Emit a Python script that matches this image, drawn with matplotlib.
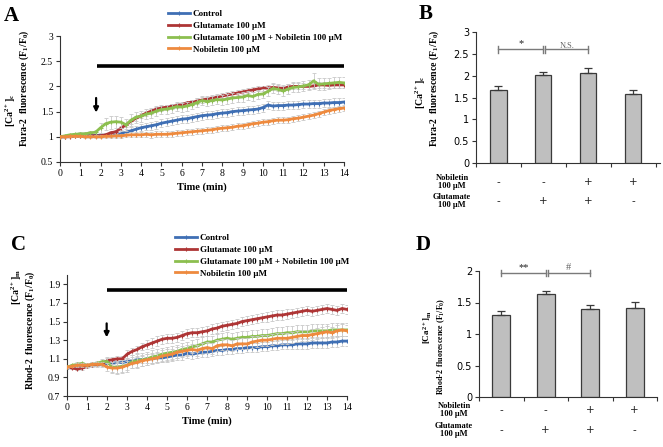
import numpy as np
import matplotlib
matplotlib.use('Agg')
import matplotlib.pyplot as plt
import matplotlib.transforms as mtrans

plt.rcParams['font.family'] = ['Liberation Serif', 'DejaVu Sans']
plt.rcParams['mathtext.fontset'] = 'custom'
plt.rcParams['mathtext.rm'] = 'Liberation Serif:bold'
plt.rcParams['mathtext.it'] = 'Liberation Serif:bold'
plt.rcParams['mathtext.bf'] = 'Liberation Serif:bold'
plt.rcParams['mathtext.default'] = 'rm'

# ---------------- data ----------------
series_labels = ["Control", "Glutamate 100 \u00b5M",
                 "Glutamate 100 \u00b5M + Nobiletin 100 \u00b5M", "Nobiletin 100 \u00b5M"]
series_colors = ['#3F6FB4', '#AE3535', '#8CBF4F', '#EE8A3E']

time_min = np.linspace(0, 14, 57)  # sampling every 0.25 min

# Panel A: Fura-2 (cytosolic Ca2+)
fura_control = [1.00, 1.00, 1.01, 1.01, 1.02, 1.02, 1.02, 1.03, 1.03, 1.03, 1.04, 1.04, 1.06, 1.09, 1.12,
                1.15, 1.18, 1.20, 1.22, 1.24, 1.27, 1.29, 1.31, 1.33, 1.35, 1.36, 1.38, 1.40, 1.42, 1.43,
                1.44, 1.46, 1.47, 1.48, 1.50, 1.51, 1.52, 1.53, 1.54, 1.55, 1.58, 1.63, 1.61, 1.62, 1.62,
                1.63, 1.63, 1.64, 1.65, 1.65, 1.66, 1.66, 1.67, 1.67, 1.68, 1.68, 1.69]
fura_glut = [1.00, 1.00, 1.00, 1.01, 1.01, 1.01, 1.02, 1.02, 1.02, 1.04, 1.08, 1.10, 1.17, 1.24, 1.31,
             1.37, 1.42, 1.47, 1.51, 1.55, 1.57, 1.59, 1.61, 1.62, 1.64, 1.67, 1.69, 1.71, 1.73, 1.75,
             1.77, 1.79, 1.81, 1.83, 1.85, 1.87, 1.89, 1.91, 1.93, 1.95, 1.96, 1.97, 1.98, 1.97, 1.96,
             1.99, 2.00, 2.00, 2.00, 2.00, 2.01, 2.03, 2.03, 2.02, 2.03, 2.03, 2.03]
fura_glut_nob = [1.00, 1.02, 1.04, 1.05, 1.06, 1.06, 1.08, 1.09, 1.18, 1.26, 1.29, 1.30, 1.29, 1.24, 1.33,
                 1.39, 1.41, 1.45, 1.47, 1.51, 1.54, 1.55, 1.57, 1.60, 1.59, 1.61, 1.64, 1.68, 1.72, 1.70,
                 1.72, 1.74, 1.73, 1.75, 1.77, 1.78, 1.79, 1.82, 1.80, 1.84, 1.85, 1.90, 1.96, 1.94, 1.91,
                 1.95, 1.98, 1.99, 2.01, 2.03, 2.11, 2.04, 2.05, 2.06, 2.07, 2.08, 2.07]
fura_nob = [1.00, 1.00, 1.01, 1.01, 1.01, 1.00, 1.00, 1.00, 1.00, 1.01, 1.01, 1.02, 1.02, 1.03, 1.04,
            1.04, 1.04, 1.05, 1.04, 1.05, 1.05, 1.05, 1.06, 1.07, 1.08, 1.09, 1.10, 1.11, 1.12, 1.13,
            1.14, 1.16, 1.17, 1.18, 1.19, 1.21, 1.22, 1.24, 1.26, 1.27, 1.29, 1.30, 1.32, 1.33, 1.33,
            1.34, 1.36, 1.37, 1.39, 1.41, 1.43, 1.46, 1.49, 1.52, 1.54, 1.56, 1.57]
fura_control_se = [0.01, 0.01, 0.02, 0.02, 0.02, 0.03, 0.03, 0.03, 0.04, 0.04, 0.05, 0.05, 0.06, 0.06, 0.07,
                   0.07, 0.07, 0.07, 0.08, 0.08, 0.08, 0.08, 0.08, 0.08, 0.08, 0.08, 0.08, 0.08, 0.08, 0.08,
                   0.08, 0.08, 0.08, 0.08, 0.08, 0.08, 0.08, 0.08, 0.08, 0.08, 0.08, 0.08, 0.08, 0.08, 0.08,
                   0.08, 0.08, 0.08, 0.08, 0.08, 0.08, 0.08, 0.08, 0.08, 0.08, 0.08, 0.08]
fura_glut_se = [0.01, 0.01, 0.01, 0.01, 0.02, 0.02, 0.02, 0.02, 0.02, 0.03, 0.03, 0.03, 0.04, 0.04, 0.05,
                0.05, 0.05, 0.05, 0.05, 0.05, 0.05, 0.05, 0.05, 0.05, 0.05, 0.05, 0.05, 0.05, 0.05, 0.05,
                0.05, 0.05, 0.05, 0.05, 0.05, 0.05, 0.05, 0.05, 0.05, 0.05, 0.05, 0.05, 0.06, 0.06, 0.06,
                0.06, 0.06, 0.06, 0.06, 0.06, 0.06, 0.06, 0.06, 0.06, 0.06, 0.06, 0.06]
fura_glut_nob_se = [0.01, 0.02, 0.02, 0.02, 0.03, 0.03, 0.04, 0.05, 0.10, 0.12, 0.13, 0.12, 0.11, 0.12, 0.12,
                    0.11, 0.11, 0.10, 0.10, 0.10, 0.09, 0.09, 0.09, 0.09, 0.09, 0.09, 0.09, 0.09, 0.09, 0.09,
                    0.09, 0.09, 0.09, 0.09, 0.09, 0.09, 0.09, 0.09, 0.09, 0.09, 0.09, 0.09, 0.10, 0.10, 0.10,
                    0.10, 0.10, 0.10, 0.10, 0.10, 0.15, 0.12, 0.12, 0.11, 0.11, 0.11, 0.11]
fura_nob_se = [0.01, 0.01, 0.01, 0.02, 0.02, 0.02, 0.02, 0.03, 0.03, 0.03, 0.03, 0.04, 0.04, 0.04, 0.05,
               0.05, 0.05, 0.05, 0.06, 0.06, 0.06, 0.06, 0.06, 0.06, 0.06, 0.06, 0.06, 0.06, 0.06, 0.06,
               0.06, 0.06, 0.06, 0.06, 0.06, 0.06, 0.06, 0.06, 0.06, 0.06, 0.06, 0.06, 0.06, 0.06, 0.06,
               0.06, 0.06, 0.06, 0.06, 0.06, 0.06, 0.06, 0.06, 0.06, 0.06, 0.06, 0.06]

# Panel C: Rhod-2 (mitochondrial Ca2+)
rhod_control = [1.00, 1.01, 1.02, 1.02, 1.03, 1.03, 1.04, 1.04, 1.05, 1.05, 1.06, 1.06, 1.07, 1.08, 1.09,
                1.09, 1.10, 1.10, 1.11, 1.11, 1.12, 1.13, 1.14, 1.14, 1.16, 1.15, 1.16, 1.17, 1.17, 1.18,
                1.19, 1.19, 1.20, 1.20, 1.21, 1.21, 1.22, 1.22, 1.22, 1.23, 1.23, 1.24, 1.24, 1.25, 1.25,
                1.25, 1.26, 1.26, 1.26, 1.27, 1.27, 1.27, 1.27, 1.28, 1.28, 1.29, 1.29]
rhod_glut = [1.01, 1.00, 0.99, 1.00, 1.02, 1.03, 1.04, 1.05, 1.08, 1.09, 1.10, 1.10, 1.15, 1.18, 1.20,
             1.23, 1.25, 1.27, 1.29, 1.31, 1.32, 1.32, 1.33, 1.35, 1.37, 1.38, 1.38, 1.39, 1.40, 1.42,
             1.43, 1.45, 1.46, 1.47, 1.48, 1.50, 1.51, 1.52, 1.53, 1.54, 1.55, 1.56, 1.57, 1.57, 1.58,
             1.59, 1.60, 1.61, 1.62, 1.61, 1.62, 1.63, 1.64, 1.63, 1.62, 1.64, 1.63]
rhod_glut_nob = [1.01, 1.03, 1.04, 1.05, 1.03, 1.04, 1.05, 1.07, 1.07, 1.01, 1.01, 1.02, 1.03, 1.07, 1.08,
                 1.09, 1.10, 1.12, 1.13, 1.15, 1.16, 1.17, 1.18, 1.20, 1.21, 1.23, 1.24, 1.26, 1.28, 1.28,
                 1.30, 1.31, 1.32, 1.31, 1.32, 1.33, 1.33, 1.34, 1.34, 1.35, 1.35, 1.36, 1.37, 1.37, 1.38,
                 1.38, 1.39, 1.39, 1.39, 1.40, 1.40, 1.40, 1.40, 1.41, 1.41, 1.41, 1.41]
rhod_nob = [1.01, 1.02, 1.03, 1.03, 1.03, 1.04, 1.04, 1.04, 1.01, 1.00, 1.00, 1.01, 1.03, 1.05, 1.06,
            1.08, 1.09, 1.10, 1.11, 1.13, 1.14, 1.15, 1.17, 1.18, 1.19, 1.20, 1.19, 1.21, 1.22, 1.21,
            1.24, 1.25, 1.25, 1.24, 1.26, 1.26, 1.26, 1.28, 1.29, 1.30, 1.30, 1.31, 1.32, 1.32, 1.32,
            1.33, 1.34, 1.35, 1.35, 1.36, 1.37, 1.38, 1.39, 1.38, 1.40, 1.41, 1.40]
rhod_control_se = [0.01, 0.01, 0.01, 0.02, 0.02, 0.02, 0.02, 0.02, 0.03, 0.03, 0.03, 0.03, 0.04, 0.04, 0.04,
                   0.04, 0.05, 0.05, 0.05, 0.05, 0.05, 0.05, 0.05, 0.05, 0.05, 0.05, 0.05, 0.05, 0.05, 0.05,
                   0.05, 0.05, 0.05, 0.05, 0.05, 0.05, 0.05, 0.05, 0.05, 0.05, 0.05, 0.05, 0.05, 0.05, 0.05,
                   0.05, 0.05, 0.05, 0.05, 0.05, 0.05, 0.05, 0.05, 0.05, 0.05, 0.05, 0.05]
rhod_glut_se = [0.01, 0.01, 0.01, 0.02, 0.02, 0.02, 0.02, 0.02, 0.03, 0.03, 0.03, 0.03, 0.04, 0.04, 0.04,
                0.04, 0.05, 0.05, 0.05, 0.05, 0.05, 0.05, 0.05, 0.05, 0.05, 0.05, 0.05, 0.05, 0.05, 0.05,
                0.05, 0.05, 0.05, 0.05, 0.05, 0.05, 0.05, 0.05, 0.05, 0.05, 0.05, 0.05, 0.05, 0.05, 0.05,
                0.05, 0.05, 0.05, 0.05, 0.05, 0.05, 0.05, 0.05, 0.05, 0.05, 0.05, 0.05]
rhod_glut_nob_se = [0.01, 0.01, 0.02, 0.02, 0.02, 0.02, 0.03, 0.03, 0.05, 0.06, 0.07, 0.07, 0.07, 0.07, 0.07,
                    0.07, 0.07, 0.07, 0.07, 0.07, 0.07, 0.07, 0.07, 0.07, 0.07, 0.07, 0.07, 0.07, 0.07, 0.07,
                    0.07, 0.07, 0.07, 0.07, 0.07, 0.07, 0.07, 0.07, 0.07, 0.07, 0.07, 0.07, 0.07, 0.07, 0.07,
                    0.07, 0.07, 0.07, 0.07, 0.07, 0.07, 0.07, 0.07, 0.07, 0.07, 0.07, 0.07]
rhod_nob_se = [0.01, 0.01, 0.02, 0.02, 0.02, 0.02, 0.03, 0.03, 0.04, 0.04, 0.05, 0.05, 0.05, 0.05, 0.06,
               0.06, 0.06, 0.06, 0.06, 0.06, 0.06, 0.06, 0.06, 0.06, 0.06, 0.06, 0.06, 0.06, 0.06, 0.06,
               0.06, 0.06, 0.06, 0.06, 0.06, 0.06, 0.06, 0.06, 0.06, 0.06, 0.06, 0.06, 0.06, 0.06, 0.06,
               0.06, 0.06, 0.06, 0.06, 0.06, 0.06, 0.06, 0.06, 0.06, 0.06, 0.06, 0.06]

# Panels B / D: bar summaries
nobiletin_row = ['-', '-', '+', '+']
glutamate_row = ['-', '+', '+', '-']
fura_bar_means = [1.68, 2.02, 2.07, 1.58]
fura_bar_se = [0.08, 0.07, 0.11, 0.09]
rhod_bar_means = [1.30, 1.63, 1.40, 1.42]
rhod_bar_se = [0.06, 0.06, 0.06, 0.09]

# ---------------- figure ----------------
W, H = 663, 447
fig = plt.figure(figsize=(W / 100, H / 100), dpi=100)


def fx(px):
    return px / W


def fy(py):
    return 1 - py / H


def ax_rect(l, r, t, b):
    return [fx(l), fy(b), fx(r) - fx(l), fy(t) - fy(b)]


def style_axes(ax, tick_font):
    for s in ['top', 'right']:
        ax.spines[s].set_visible(False)
    for s in ['left', 'bottom']:
        ax.spines[s].set_color('#333333')
        ax.spines[s].set_linewidth(0.8)
    ax.tick_params(direction='out', length=3, width=0.8, color='#333333', pad=2)
    for lab in ax.get_xticklabels() + ax.get_yticklabels():
        lab.set_fontfamily(tick_font)
        lab.set_fontsize(7)


def trace_panel(rect, series, errs, ylim, yticks, bar_y, bar_x0, arrow_x, arrow_y, legend_anchor):
    ax = fig.add_axes(rect)
    handles = []
    for i, (vals, se) in enumerate(zip(series, errs)):
        ax.errorbar(time_min, vals, yerr=se, fmt='none', ecolor='#C9C9C9', elinewidth=0.6,
                    capsize=1.3, capthick=0.6, zorder=1 + 2 * i)
        h, = ax.plot(time_min, vals, color=series_colors[i], lw=2.0, marker='+', ms=2.5, mew=0.8,
                     zorder=2 + 2 * i)
        handles.append(h)
    ax.set_xlim(0, 14)
    ax.set_ylim(*ylim)
    ax.set_xticks(range(0, 15))
    ax.set_yticks(yticks)
    ax.set_yticklabels([('%g' % v) for v in yticks])
    style_axes(ax, 'Liberation Serif')
    ax.plot([bar_x0, 14], [bar_y, bar_y], color='black', lw=2.6, solid_capstyle='butt', zorder=20,
            clip_on=False)
    ax.annotate('', xy=(arrow_x, arrow_y[1]), xytext=(arrow_x, arrow_y[0]),
                arrowprops=dict(arrowstyle='-|>', color='black', lw=1.6, mutation_scale=7,
                                shrinkA=0, shrinkB=0))
    ax.set_xlabel('Time (min)', fontsize=7.5, fontweight='bold', labelpad=3)
    fig.legend(handles, series_labels, loc='upper left', bbox_to_anchor=legend_anchor,
               bbox_transform=fig.transFigure, frameon=False,
               prop={'weight': 'bold', 'size': 6.5}, handlelength=2.45, handletextpad=0.3,
               labelspacing=0.38, borderpad=0, borderaxespad=0)
    return ax


def bar_panel(rect, means, ses, ylim, yticks, xlim, width, bracket_y, cap_h, marks, mark_y,
              row_y1, row_y2, label_x):
    ax = fig.add_axes(rect)
    xs = np.arange(len(means))
    ax.bar(xs, means, width=width, color='#BFBFBF', edgecolor='#3A3A3A', linewidth=0.9,
           yerr=[np.zeros(len(ses)), ses],
           error_kw=dict(ecolor='#3A3A3A', elinewidth=0.9, capsize=3, capthick=0.9), zorder=2)
    ax.set_xlim(*xlim)
    ax.set_ylim(*ylim)
    ax.set_yticks(yticks)
    ax.set_yticklabels([('%g' % v) for v in yticks])
    ax.set_xticks(np.arange(-0.5, len(means), 1.0))
    ax.set_xticklabels([])
    style_axes(ax, 'DejaVu Sans')
    ax.tick_params(axis='y', labelsize=7)
    # significance brackets
    gcol = '#7A7A7A'
    pairs = [(0, 1), (1.04, 2)]
    for (a, b), m in zip(pairs, marks):
        ax.plot([a, b], [bracket_y, bracket_y], color=gcol, lw=1.0, clip_on=False)
        ax.plot([a, a], [bracket_y - cap_h, bracket_y + cap_h], color=gcol, lw=1.0, clip_on=False)
        ax.plot([b, b], [bracket_y - cap_h, bracket_y + cap_h], color=gcol, lw=1.0, clip_on=False)
        small = m == 'N.S.'
        ax.text((a + b) / 2, bracket_y + (mark_y if not small else mark_y * 0.6), m,
                ha='center', va='center', fontsize=6 if small else 7.5,
                color='#666666' if small or m == '#' else '#222222', family='Liberation Serif')
    # treatment table
    tr = mtrans.blended_transform_factory(ax.transData, fig.transFigure)
    for i in xs:
        ax.text(i, fy(row_y1), nobiletin_row[i], transform=tr, ha='center', va='center',
                fontsize=7.5, family='DejaVu Sans', color='#222222')
        ax.text(i, fy(row_y2), glutamate_row[i], transform=tr, ha='center', va='center',
                fontsize=7.5, family='DejaVu Sans', color='#222222')
    fig.text(fx(label_x), fy(row_y1), 'Nobiletin\n100 \u00b5M', ha='center', va='center',
             fontsize=6, fontweight='bold', linespacing=1.15)
    fig.text(fx(label_x), fy(row_y2), 'Glutamate\n100 \u00b5M', ha='center', va='center',
             fontsize=6, fontweight='bold', linespacing=1.15)
    return ax


# Panel A
axA = trace_panel(ax_rect(60, 344, 36, 162),
                  [fura_control, fura_glut, fura_glut_nob, fura_nob],
                  [fura_control_se, fura_glut_se, fura_glut_nob_se, fura_nob_se],
                  (0.5, 3.0), [0.5, 1, 1.5, 2, 2.5, 3], 2.4, 1.8, 1.78, (1.77, 1.48),
                  (fx(168), fy(10)))
# Panel C
axC = trace_panel(ax_rect(67.3, 347, 275, 396),
                  [rhod_control, rhod_glut, rhod_glut_nob, rhod_nob],
                  [rhod_control_se, rhod_glut_se, rhod_glut_nob_se, rhod_nob_se],
                  (0.7, 2.0), [0.7, 0.9, 1.1, 1.3, 1.5, 1.7, 1.9], 1.84, 2.0, 1.97, (1.48, 1.33),
                  (fx(175), fy(234)))

# Panel B
axB = bar_panel(ax_rect(476, 660, 32, 163), fura_bar_means, fura_bar_se, (0, 3),
                [0, 0.5, 1, 1.5, 2, 2.5, 3], (-0.5, 3.6), 0.36, 2.6, 0.08, ['*', 'N.S.'], 0.13,
                182, 201, 452)
# Panel D
axD = bar_panel(ax_rect(479, 657, 271, 397), rhod_bar_means, rhod_bar_se, (0, 2),
                [0, 0.5, 1, 1.5, 2], (-0.5, 3.5), 0.4, 1.97, 0.05, ['**', '#'], 0.09,
                410, 430, 454)

# y labels (two lines each)
lab_kw = dict(rotation=90, ha='center', va='center', fontweight='bold')
fig.text(fx(11), fy(110), '[Ca$^{2+}$]$_c$', fontsize=7, **lab_kw)
fig.text(fx(24), fy(88), 'Fura-2  fluorescence (F$_1$/F$_0$)', fontsize=7, **lab_kw)
fig.text(fx(421), fy(92), '[Ca$^{2+}$]$_c$', fontsize=7, **lab_kw)
fig.text(fx(434), fy(88), 'Fura-2  fluorescence (F$_1$/F$_0$)', fontsize=7, **lab_kw)
fig.text(fx(17), fy(287), '[Ca$^{2+}$]$_m$', fontsize=7, **lab_kw)
fig.text(fx(30), fy(330), 'Rhod-2  fluorescence (F$_1$/F$_0$)', fontsize=7, **lab_kw)
fig.text(fx(428), fy(327), '[Ca$^{2+}$]$_m$', fontsize=6.5, **lab_kw)
fig.text(fx(441), fy(346), 'Rhod-2  fluorescence (F$_1$/F$_0$)', fontsize=5.7, **lab_kw)

# panel letters
let_kw = dict(ha='left', va='center', fontsize=15, fontweight='bold')
fig.text(fx(4), fy(16), 'A', **let_kw)
fig.text(fx(419), fy(14), 'B', **let_kw)
fig.text(fx(11), fy(245), 'C', **let_kw)
fig.text(fx(416), fy(245), 'D', **let_kw)

fig.savefig('out.png', dpi=100)
